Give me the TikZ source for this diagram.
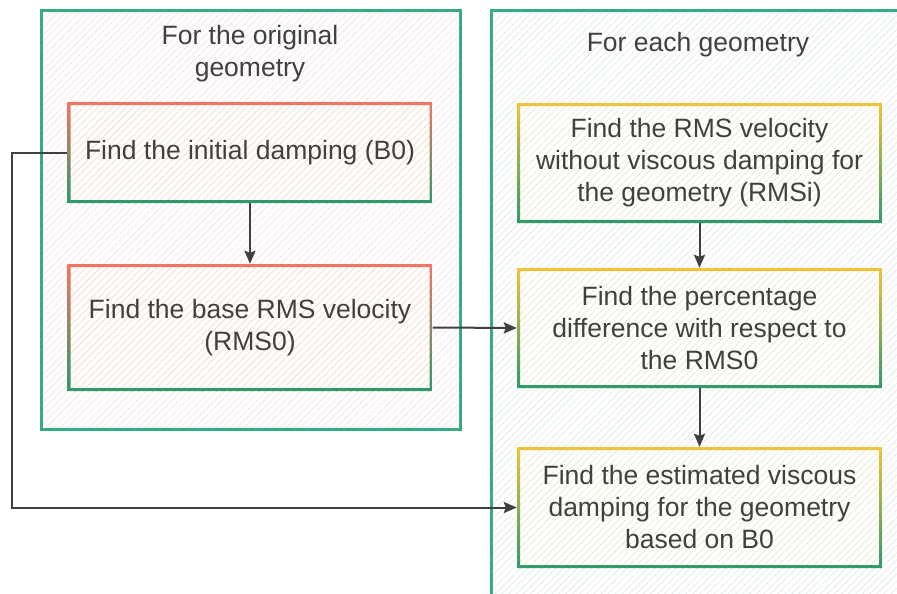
\documentclass[tikz,border=0pt]{standalone}
\usepackage{fontspec}
\setmainfont{Liberation Sans}
\usetikzlibrary{arrows.meta,patterns.meta}
\definecolor{framegreen}{HTML}{3AAA80}
\definecolor{boxgreen}{HTML}{2E9A6A}
\definecolor{boxred}{HTML}{F27562}
\definecolor{boxyellow}{HTML}{F0C43A}
\definecolor{textgray}{HTML}{404040}
\definecolor{hatchpink}{HTML}{F9E6E6}
\definecolor{hatchteal}{HTML}{E3EEEA}
\definecolor{hatchpeach}{HTML}{FADCCB}
\definecolor{hatchyellow}{HTML}{EEEBCF}

\begin{document}
\begin{tikzpicture}[x=1pt,y=-1pt,
  every node/.style={font=\fontsize{26.5}{32}\selectfont, text=textgray, align=center},
  hatch/.style={pattern={Lines[angle=45,distance=5pt,line width=0.8pt]}, pattern color=#1},
  frame/.style={draw=framegreen, line width=3pt, preaction={fill=white}, hatch=#1},
  stepbox/.style 2 args={minimum width=365pt, inner sep=0pt,
    path picture={
      \fill[white] (path picture bounding box.north west) rectangle (path picture bounding box.south east);
      \fill[hatch=#2] (path picture bounding box.north west) rectangle (path picture bounding box.south east);
      \shade[top color=#1, bottom color=boxgreen, even odd rule]
        (path picture bounding box.north west) rectangle (path picture bounding box.south east)
        ([shift={(3pt,-3pt)}]path picture bounding box.north west)
        rectangle ([shift={(-3pt,3pt)}]path picture bounding box.south east);
    }},
  arr/.style={draw=textgray, line width=2pt, -{Stealth[length=13pt,width=11pt,inset=2pt]}}]
\useasboundingbox (0,0) rectangle (897,594);
\clip (0,0) rectangle (897,594);
\fill[white] (0,0) rectangle (897,594);

% containers
\draw[frame=hatchpink] (41,11) rectangle (460,429);
\draw[frame=hatchteal] (491,11) rectangle (920,620);
\node (origtitle) at (250,54) {For the original\\geometry};
\node (eachtitle) at (698,45) {For each geometry};

% left column
\node[stepbox={boxred}{hatchpeach}, minimum height=101pt] (b1) at (250,152.5)
  {Find the initial damping (B0)};
\node[stepbox={boxred}{hatchpeach}, minimum height=127pt] (b2) at (250,327.5)
  {Find the base RMS velocity\\(RMS0)};

% right column
\node[stepbox={boxyellow}{hatchyellow}, minimum height=120pt] (b3) at (699.5,163)
  {Find the RMS velocity\\without viscous damping for\\the geometry (RMSi)};
\node[stepbox={boxyellow}{hatchyellow}, minimum height=120pt] (b4) at (699.5,328)
  {Find the percentage\\difference with respect to\\the RMS0};
\node[stepbox={boxyellow}{hatchyellow}, minimum height=121pt] (b5) at (699.5,507.5)
  {Find the estimated viscous\\damping for the geometry\\based on B0};

\coordinate (turn) at (12,152.5);

\draw[arr] (b1) -- (b2);
\draw[arr] (b3) -- (b4);
\draw[arr] (b4) -- (b5);
\draw[arr] (b2.east) -- (b4.west);
\draw[arr] (b1.west) -- (turn) |- (b5.west);
\end{tikzpicture}
\end{document}
